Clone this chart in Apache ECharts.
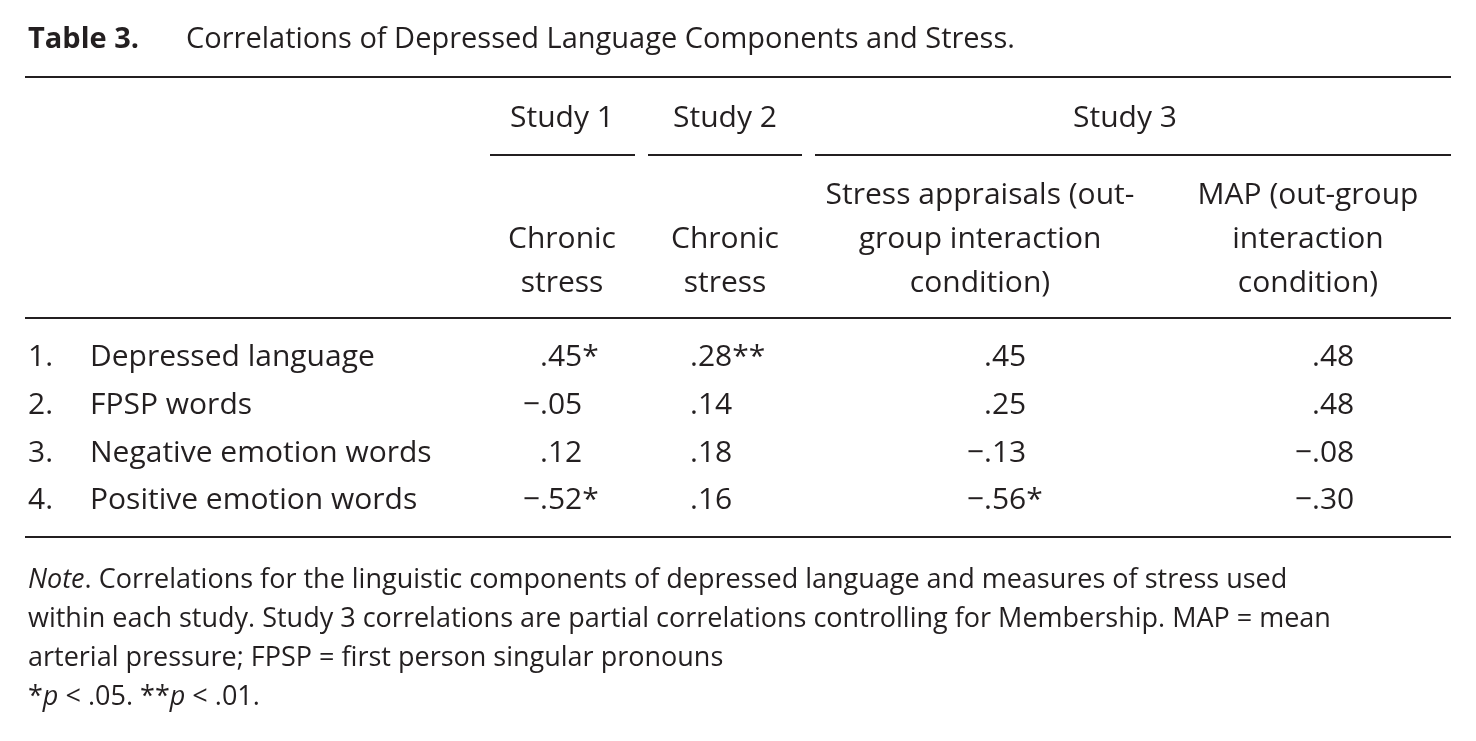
<!DOCTYPE html>
<html><head><meta charset="utf-8">
<script src="https://cdn.jsdelivr.net/npm/echarts@6/dist/echarts.min.js"></script>
<style>html,body{margin:0;background:#fff}#main{width:1476px;height:741px}</style>
</head><body><div id="main"></div>
<script>
var rowNums = ['1.', '2.', '3.', '4.'];
var rowLabels = ['Depressed language', 'FPSP words', 'Negative emotion words', 'Positive emotion words'];
var studies = ['Study 1', 'Study 2', 'Study 3'];
var colHeads = [
  ['Chronic', 'stress'],
  ['Chronic', 'stress'],
  ['Stress appraisals (out-', 'group interaction', 'condition)'],
  ['MAP (out-group', 'interaction', 'condition)']
];
var values = [
  ['.45*', '.28**', '.45', '.48'],
  ['\u2212.05', '.14', '.25', '.48'],
  ['.12', '.18', '\u2212.13', '\u2212.08'],
  ['\u2212.52*', '.16', '\u2212.56*', '\u2212.30']
];
var noteLines = [
  'Correlations for the linguistic components of depressed language and measures of stress used',
  'within each study. Study 3 correlations are partial correlations controlling for Membership. MAP = mean',
  'arterial pressure; FPSP = first person singular pronouns'
];

var font = '"Open Sans", Lato, sans-serif';
var col = '#231f20';
var g = [];
function txt(x, y, s, size, align, weight, style) {
  g.push({type: 'text', x: x, y: y, style: {text: s, fill: col, font: (style || 'normal') + ' ' + (weight || 'normal') + ' ' + size + 'px ' + font, textAlign: align || 'left', textVerticalAlign: 'middle'}});
}
function line(x1, x2, y, w) {
  g.push({type: 'line', shape: {x1: x1, y1: y, x2: x2, y2: y}, style: {stroke: col, lineWidth: w || 2}});
}
txt(28, 40, 'Table 3.', 29, 'left', 'bold');
txt(186, 40, 'Correlations of Depressed Language Components and Stress.', 29);
line(25, 1451, 77);
var studyX = [562, 725, 1125];
studies.forEach(function (s, i) { txt(studyX[i], 118, s, 30, 'center'); });
[[490, 635], [648, 802], [815, 1451]].forEach(function (r) { line(r[0], r[1], 155); });
var headX = [562, 725, 980, 1308];
colHeads.forEach(function (h, i) {
  var y0 = 283 - (h.length - 1) * 44;
  h.forEach(function (s, k) { txt(headX[i], y0 + k * 44, s, 30, 'center'); });
});
line(25, 1451, 318);
var rowY = [357, 405, 453, 500];
var dotX = [540, 690, 984, 1312];
rowLabels.forEach(function (lab, r) {
  txt(28, rowY[r], rowNums[r], 30);
  txt(90, rowY[r], lab, 30);
  values[r].forEach(function (v, c) {
    var neg = v.charAt(0) === '\u2212';
    var rest = neg ? v.slice(1) : v;
    if (neg) txt(dotX[c], rowY[r], '\u2212', 30, 'right');
    txt(dotX[c], rowY[r], rest, 30, 'left');
  });
});
line(25, 1451, 537);
var rich = {i: {fontStyle: 'italic', fontSize: 27, fontFamily: font, fill: col}, n: {fontSize: 27, fontFamily: font, fill: col}};
g.push({type: 'text', x: 28, y: 580, style: {rich: rich, text: '{i|Note}{n|. ' + noteLines[0] + '}', textVerticalAlign: 'middle'}});
txt(28, 619, noteLines[1], 27);
txt(28, 658, noteLines[2], 27);
g.push({type: 'text', x: 28, y: 697, style: {rich: rich, text: '{n|*}{i|p}{n| < .05. **}{i|p}{n| < .01.}', textVerticalAlign: 'middle'}});

var myChart = echarts.init(document.getElementById('main'));
myChart.setOption({backgroundColor: '#fff', graphic: g});
</script></body></html>
